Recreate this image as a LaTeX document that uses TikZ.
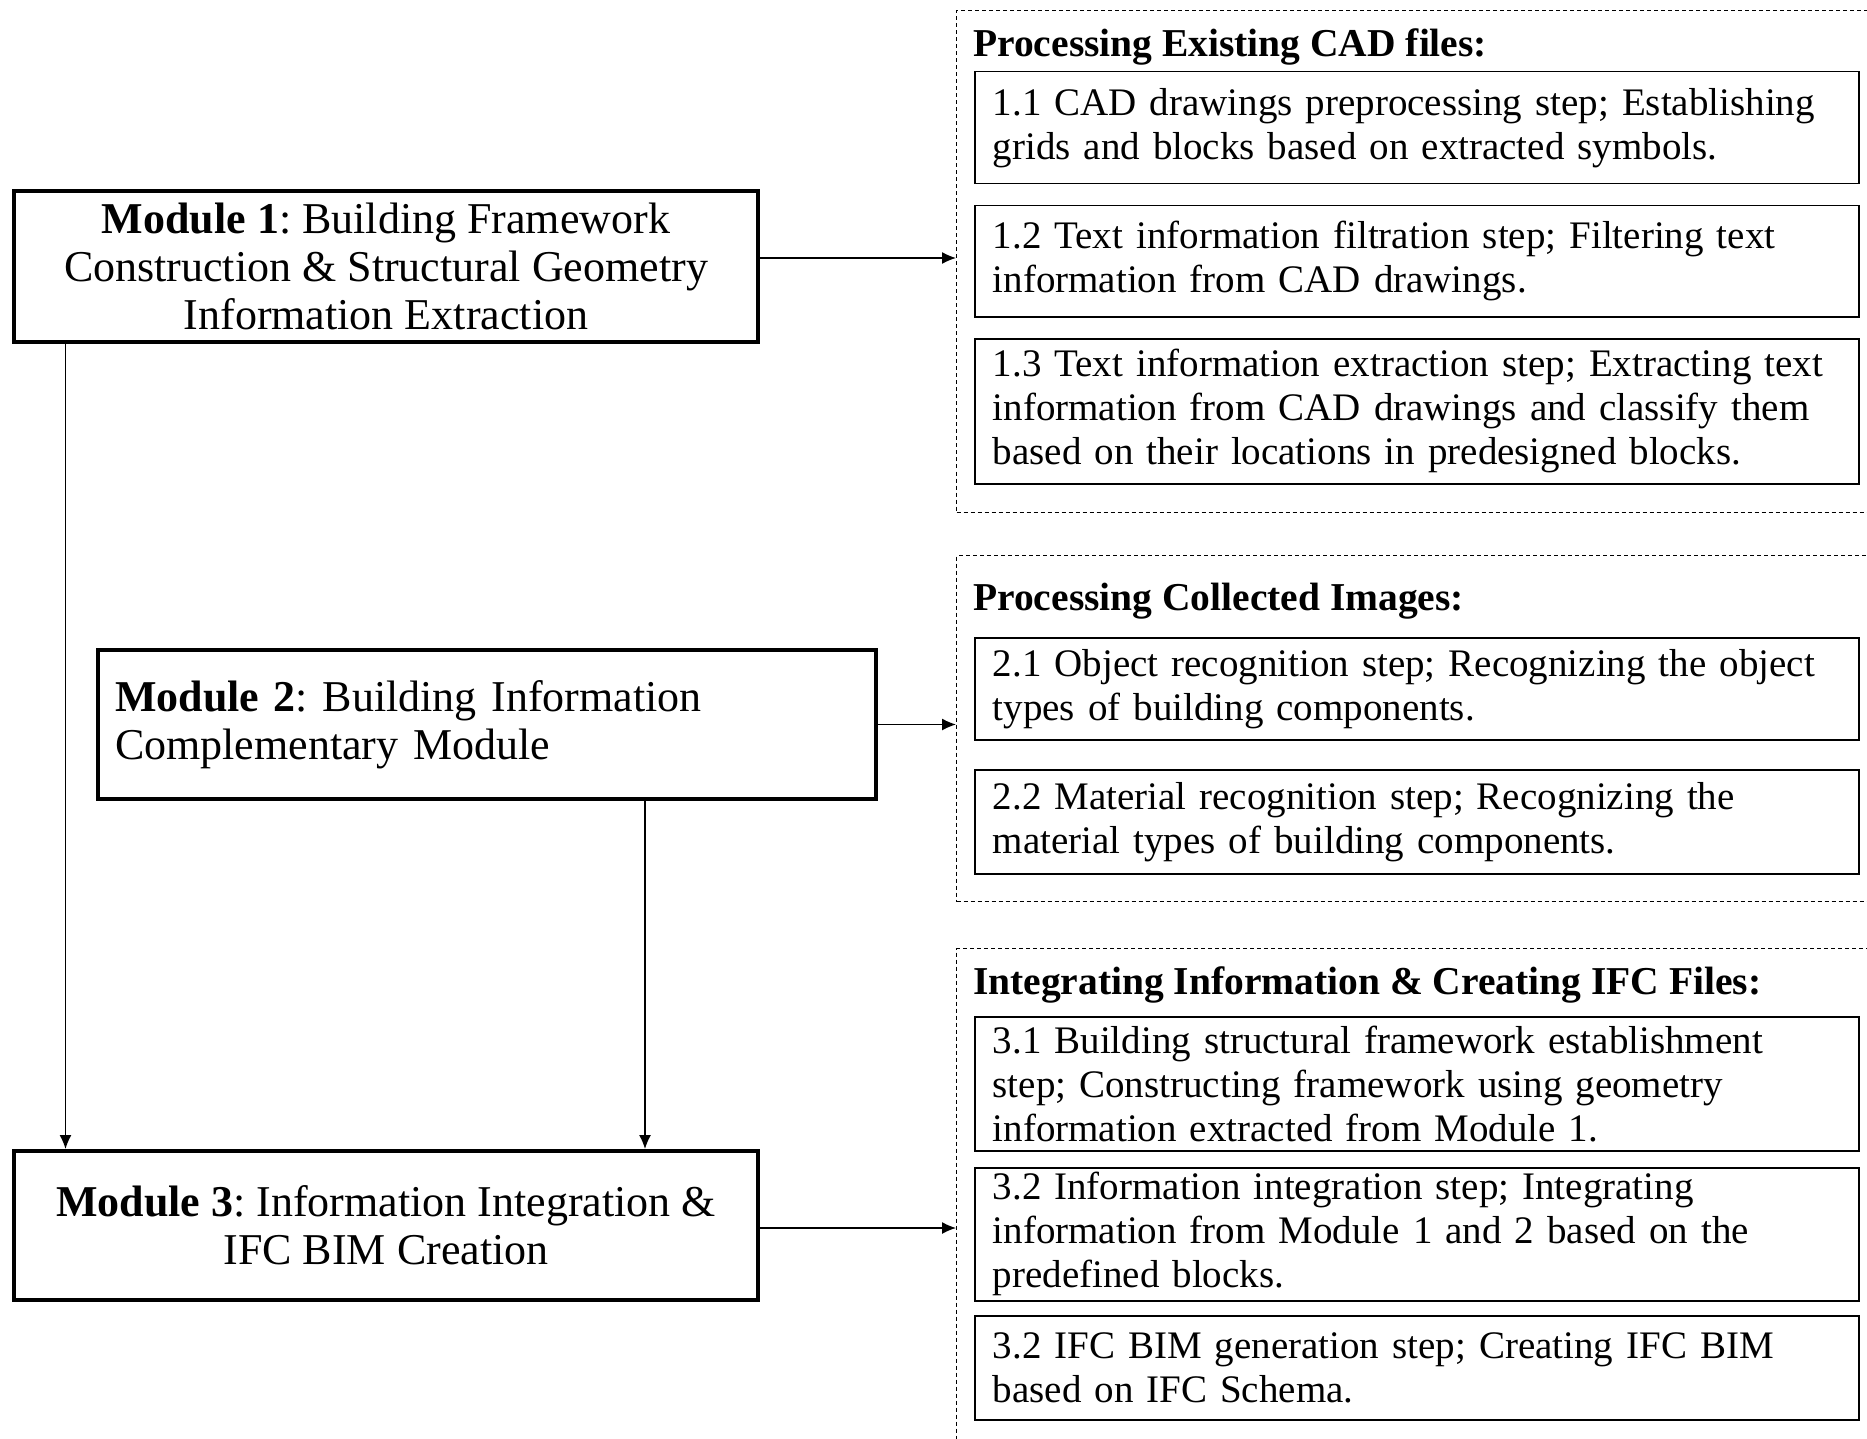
\documentclass[tikz,border=0pt]{standalone}
\usepackage{fontspec}
\setmainfont{Liberation Serif}
\usetikzlibrary{arrows.meta}
\begin{document}
\frenchspacing
\begin{tikzpicture}[x=1pt,y=-1pt,
 modbox/.style={draw, line width=4pt, minimum width=744pt, minimum height=151pt, align=center, font=\fontsize{44}{48}\selectfont, inner sep=0pt},
 stepbox/.style={draw, line width=1.5pt, anchor=north west, minimum width=884pt, text width=848pt, inner xsep=18pt, inner ysep=0pt, align=left, font=\fontsize{39}{44}\selectfont},
 grp/.style={draw, line width=1pt, dash pattern=on 4pt off 3pt, anchor=north west, minimum width=950pt, inner sep=0pt},
 grptitle/.style={anchor=west, font=\bfseries\fontsize{39.5}{44}\selectfont, inner sep=0pt},
 conn/.style={-{Latex[length=14pt,width=12pt]}, line width=1.3pt}]
\useasboundingbox (0,0) rectangle (1867,1439);

% group frames
\node[grp, minimum height=502pt] (g1) at (956,10) {};
\node[grp, minimum height=346pt] (g2) at (956,555) {};
\node[grp, minimum height=560pt] (g3) at (956,948) {};

% titles
\node[grptitle] (t1) at (973,47) {Processing Existing CAD files:};
\node[grptitle] (t2) at (973,601) {Processing Collected Images:};
\node[grptitle] (t3) at (973,985) {Integrating Information \& Creating IFC Files:};

% step boxes
\node[stepbox, minimum height=112pt] (s11) at (974,71) {1.1 CAD drawings preprocessing step; Establishing\\ grids and blocks based on extracted symbols.};
\node[stepbox, minimum height=111pt] (s12) at (974,205) {1.2 Text information filtration step; Filtering text\\ information from CAD drawings.};
\node[stepbox, minimum height=145pt] (s13) at (974,338) {1.3 Text information extraction step; Extracting text\\ information from CAD drawings and classify them\\ based on their locations in predesigned blocks.};

\node[stepbox, minimum height=102pt] (s21) at (974,637) {2.1 Object recognition step; Recognizing the object\\ types of building components.};
\node[stepbox, minimum height=104pt] (s22) at (974,769) {2.2 Material recognition step; Recognizing the\\ material types of building components.};

\node[stepbox, minimum height=134pt] (s31) at (974,1016) {3.1 Building structural framework establishment\\ step; Constructing framework using geometry\\ information extracted from Module 1.};
\node[stepbox, minimum height=133pt] (s32) at (974,1167) {3.2 Information integration step; Integrating\\ information from Module 1 and 2 based on the\\ predefined blocks.};
\node[stepbox, minimum height=104pt] (s33) at (974,1315) {3.2 IFC BIM generation step; Creating IFC BIM\\ based on IFC Schema.};

% modules
\node[modbox] (m1) at (386,266.5) {\textbf{Module 1}: Building Framework\\ Construction \& Structural Geometry\\ Information Extraction};
\node[modbox, minimum width=778pt, minimum height=149pt, text width=744pt, inner xsep=17pt, align=left] (m2) at (487,724.5) {\textbf{Module 2}: Building Information\\ Complementary Module};
\node[modbox, minimum height=149pt] (m3) at (386,1225.5) {\textbf{Module 3}: Information Integration \&\\ IFC BIM Creation};

% connectors
\coordinate (a1) at (758,258);
\draw[conn] (a1) -- (a1 -| g1.west);
\draw[conn] (m2.east) -- (m2.east -| g2.west);
\coordinate (a3) at (758,1228);
\draw[conn] (a3) -- (a3 -| g3.west);
\coordinate (v1) at (65.5,0);
\draw[conn] (v1 |- m1.south) -- (v1 |- m3.north);
\coordinate (v2) at (645,0);
\draw[conn] (v2 |- m2.south) -- (v2 |- m3.north);
\end{tikzpicture}
\end{document}
